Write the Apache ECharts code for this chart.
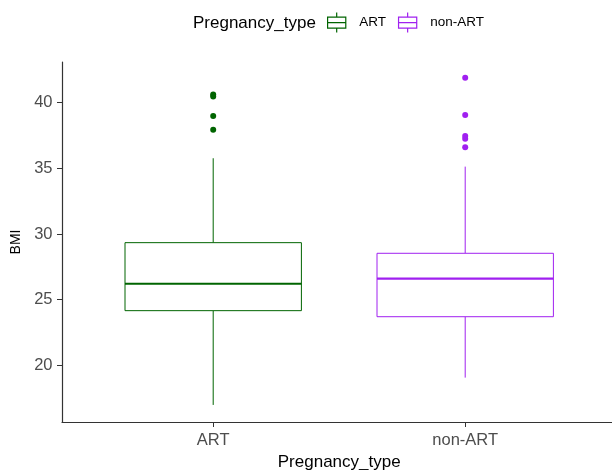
<!DOCTYPE html>
<html>
<head>
<meta charset="utf-8">
<script src="https://cdn.jsdelivr.net/npm/echarts@6/dist/echarts.min.js"></script>
<style>
html,body{margin:0;padding:0;background:#fff;}
#chart{width:612px;height:470px;}
</style>
</head>
<body>
<div id="chart"></div>
<script>
// ---- data ----
const categories = ['ART', 'non-ART'];
// [lower whisker, Q1, median, Q3, upper whisker]
const artStats = [16.98, 24.16, 26.21, 29.34, 35.77];
const nonArtStats = [19.06, 23.70, 26.60, 28.53, 35.13];
const artOutliers = [40.62, 40.48, 38.99, 37.94];
const nonArtOutliers = [41.90, 39.06, 37.47, 37.25, 36.60];
const yTicks = [20, 25, 30, 35, 40];
const xTicks = [0, 1];

const colors = ['#006400', '#A020F0'];
const font = '"Liberation Sans", Arial, sans-serif';

function renderBox(params, api) {
  const x = api.value(0);
  const lo = api.coord([x, api.value(1)]);
  const q1 = api.coord([x, api.value(2)]);
  const med = api.coord([x, api.value(3)]);
  const q3 = api.coord([x, api.value(4)]);
  const hi = api.coord([x, api.value(5)]);
  const half = api.size([0.7, 0])[0] / 2;
  const color = api.visual('color');
  return {
    type: 'group',
    children: [
      { type: 'line', shape: { x1: lo[0], y1: lo[1], x2: q1[0], y2: q1[1] }, style: { stroke: color, lineWidth: 1 } },
      { type: 'line', shape: { x1: q3[0], y1: q3[1], x2: hi[0], y2: hi[1] }, style: { stroke: color, lineWidth: 1 } },
      { type: 'rect', shape: { x: q1[0] - half, y: q3[1], width: half * 2, height: q1[1] - q3[1] }, style: { fill: '#fff', stroke: color, lineWidth: 1 } },
      { type: 'line', shape: { x1: med[0] - half, y1: med[1], x2: med[0] + half, y2: med[1] }, style: { stroke: color, lineWidth: 2.2 } }
    ]
  };
}

const legendIcon = 'path://M0,5 L20,5 L20,17 L0,17 Z M0,11 L20,11 M10,0 L10,5 M10,17 L10,22';

const chart = echarts.init(document.getElementById('chart'), null, { renderer: 'canvas' });
chart.setOption({
  animation: false,
  backgroundColor: '#fff',
  color: colors,
  title: {
    text: 'Pregnancy_type',
    left: 188,
    top: 10,
    textStyle: { fontFamily: font, fontSize: 17, fontWeight: 'normal', color: '#000' }
  },
  legend: {
    left: 327,
    top: 12,
    padding: 0,
    itemWidth: 21,
    itemHeight: 20,
    itemGap: 12,
    textStyle: { fontFamily: font, fontSize: 13.5, color: '#000', padding: [0, 0, 0, 7] },
    data: categories.map((c, i) => ({
      name: c,
      icon: legendIcon,
      itemStyle: { color: '#fff', borderColor: colors[i], borderWidth: 1.2 }
    }))
  },
  grid: { left: 62, top: 62, width: 554.4, height: 360, containLabel: false, outerBoundsMode: 'none' },
  xAxis: {
    type: 'value',
    min: -0.6,
    max: 1.6,
    name: 'Pregnancy_type',
    nameLocation: 'middle',
    nameGap: 31,
    nameTextStyle: { fontFamily: font, fontSize: 17, color: '#000' },
    splitLine: { show: false },
    axisLine: { show: true, onZero: false, lineStyle: { color: '#333', width: 1.2 } },
    axisTick: { show: true, customValues: xTicks, length: 5, lineStyle: { color: '#333' } },
    axisLabel: {
      customValues: xTicks,
      formatter: v => categories[Math.round(v)],
      fontFamily: font, fontSize: 16.5, color: '#4D4D4D', margin: 10
    }
  },
  yAxis: {
    type: 'value',
    min: 15.68,
    max: 43.1,
    name: 'BMI',
    nameLocation: 'middle',
    nameGap: 38,
    nameRotate: 90,
    nameTextStyle: { fontFamily: font, fontSize: 14, color: '#000' },
    splitLine: { show: false },
    axisLine: { show: true, onZero: false, lineStyle: { color: '#333', width: 1.2 } },
    axisTick: { show: true, customValues: yTicks, length: 5, lineStyle: { color: '#333' } },
    axisLabel: {
      customValues: yTicks,
      fontFamily: font, fontSize: 16.5, color: '#4D4D4D', margin: 9.5
    }
  },
  series: [
    {
      name: 'ART', type: 'custom', renderItem: renderBox,
      encode: { x: 0, y: [1, 2, 3, 4, 5] },
      itemStyle: { color: colors[0] },
      data: [[0].concat(artStats)]
    },
    {
      name: 'non-ART', type: 'custom', renderItem: renderBox,
      encode: { x: 0, y: [1, 2, 3, 4, 5] },
      itemStyle: { color: colors[1] },
      data: [[1].concat(nonArtStats)]
    },
    {
      name: 'ART', type: 'scatter', symbolSize: 6,
      itemStyle: { color: colors[0], opacity: 1 },
      data: artOutliers.map(v => [0, v])
    },
    {
      name: 'non-ART', type: 'scatter', symbolSize: 6,
      itemStyle: { color: colors[1], opacity: 1 },
      data: nonArtOutliers.map(v => [1, v])
    }
  ]
});
</script>
</body>
</html>
